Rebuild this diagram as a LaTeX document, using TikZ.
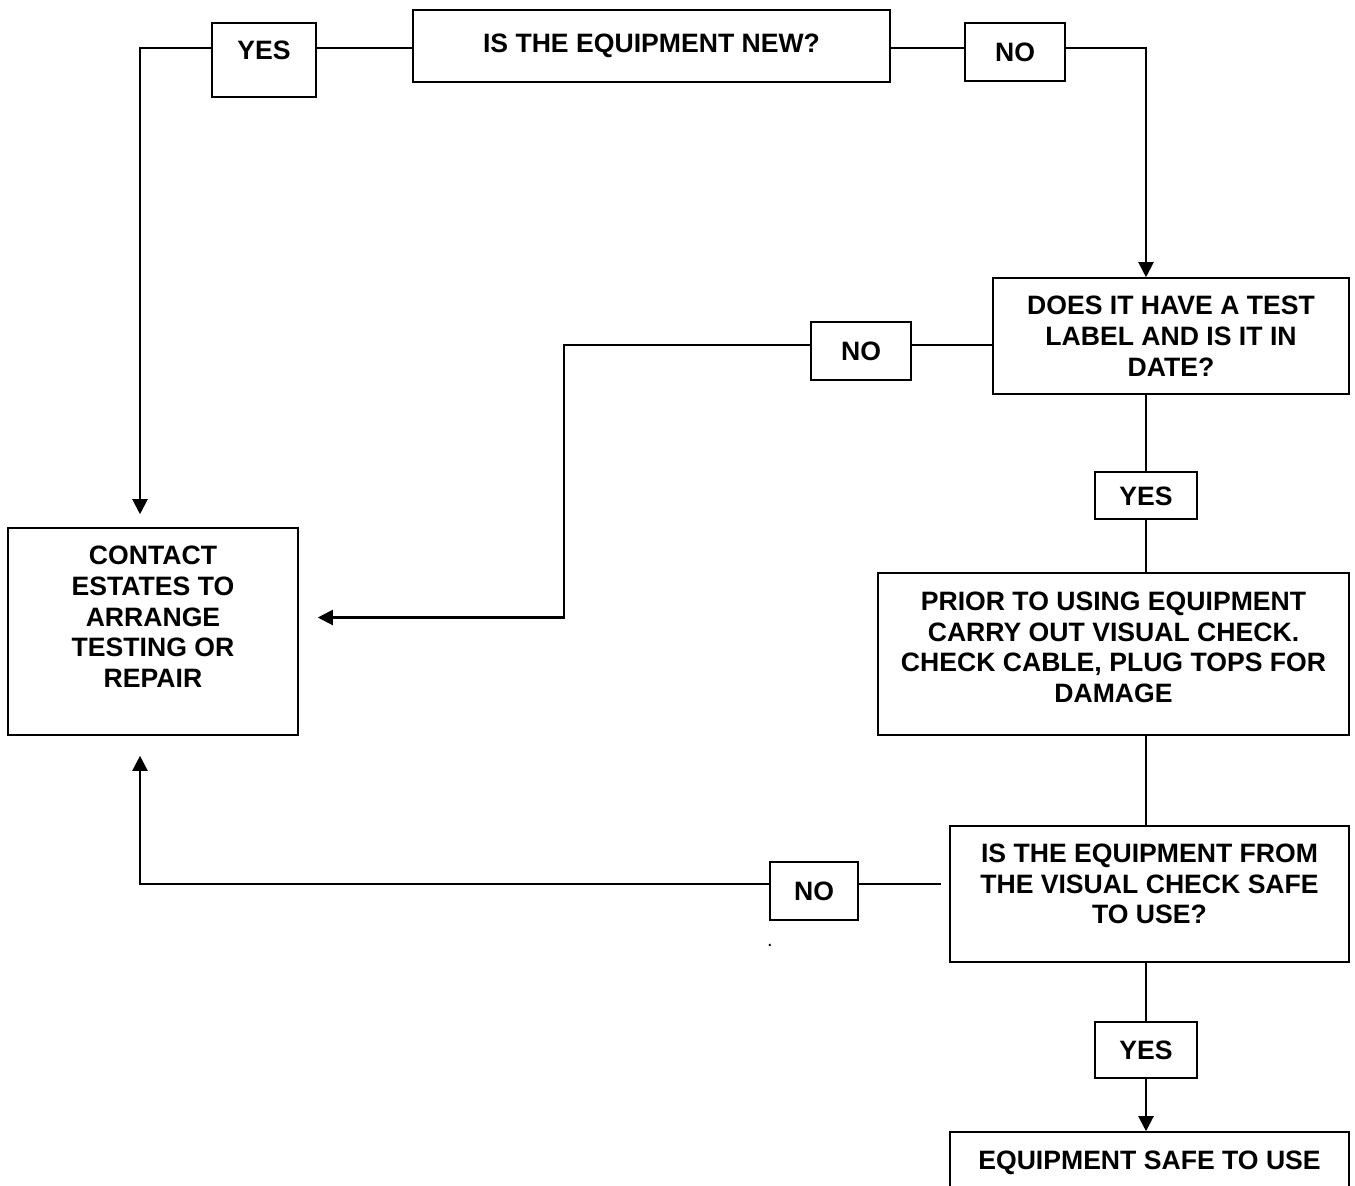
\documentclass[tikz,border=0pt]{standalone}
\usepackage{fontspec}
\setmainfont{Liberation Sans}
\usepackage{tikz}
\usetikzlibrary{arrows.meta}

\begin{document}
\begin{tikzpicture}[x=0.5pt, y=-0.5pt]
	% Styles
	\tikzstyle{box} = [draw, line width=0.8pt, rectangle, inner sep=0pt, align=center, text height=9.5pt, font=\fontsize{13.3pt}{15.4pt}\selectfont\bfseries]
	\tikzstyle{ans} = [box, minimum width=50pt, minimum height=29pt, text depth=0pt]
	\tikzstyle{line} = [line width=1.05pt]
	\tikzstyle{arrow} = [line width=1.05pt, ->, >={Triangle[length=7.5pt, width=7.5pt]}]

	\useasboundingbox (0,0) rectangle (1355,1185);

	% Nodes
	\node (new) [box, minimum width=238.5pt, minimum height=36pt, text depth=3pt] at (651.5,46) {IS THE EQUIPMENT NEW?};
	\node (yes1) [ans, minimum width=52pt, minimum height=37pt, text depth=10pt] at (264,60) {YES};
	\node (no1) [ans] at (1015,52) {NO};
	\node (label) [box, minimum width=178pt, minimum height=58pt, text height=40.3pt, text depth=0pt] at (1171,336) {DOES IT HAVE A TEST\\LABEL AND IS IT IN\\DATE?};
	\node (no2) [ans] at (861,351) {NO};
	\node (yes2) [ans, minimum width=51pt, minimum height=23.5pt] at (1146,495.5) {YES};
	\node (contact) [box, minimum width=145pt, minimum height=103.5pt, text height=71.1pt, text depth=15pt] at (153,631.5) {CONTACT\\ESTATES TO\\ARRANGE\\TESTING OR\\REPAIR};
	\node (prior) [box, minimum width=235.5pt, minimum height=81pt, text height=55.7pt, text depth=7pt] at (1113.5,654) {PRIOR TO USING EQUIPMENT\\CARRY OUT VISUAL CHECK.\\CHECK CABLE, PLUG TOPS FOR\\DAMAGE};
	\node (from) [box, minimum width=199.5pt, minimum height=68pt, text height=40.3pt, text depth=10.5pt] at (1149.5,894) {IS THE EQUIPMENT FROM\\THE VISUAL CHECK SAFE\\TO USE?};
	\node (no3) [ans, minimum width=44pt] at (814,891) {NO};
	\node (yes3) [ans, minimum width=51pt, minimum height=28pt] at (1146,1050) {YES};
	\node (safe) [box, minimum width=199.5pt, minimum height=34pt, text depth=6pt] at (1149.5,1166) {EQUIPMENT SAFE TO USE};
	\node (dot) at (770,945) {.};

	% Connections
	\draw [line] ([yshift=-1pt]new.west) -- ([yshift=-1pt]new.west -| yes1.east);
	\draw [arrow, shorten >=6.5pt] ([yshift=-1pt]new.west -| yes1.west) -| ([xshift=-6.5pt]contact.north);
	\draw [line] ([yshift=-1pt]new.east) -- ([yshift=-1pt]new.east -| no1.west);
	\draw [arrow] ([yshift=-1pt]new.east -| no1.east) -| (yes2 |- label.north);
	\draw [line] ([yshift=3pt]no2.east) -- ([yshift=3pt]no2.east -| label.west);
	\draw [arrow, shorten >=9.5pt] ([yshift=3pt]no2.west) -- ++(-246,0) |- ([yshift=7pt]contact.east);
	\draw [line] (yes2 |- label.south) -- (yes2.north);
	\draw [line] (yes2.south) -- (yes2 |- prior.north);
	\draw [line] (yes2 |- prior.south) -- (yes2 |- from.north);
	\draw [line] (yes3 |- from.south) -- (yes3.north);
	\draw [arrow] (yes3.south) -- (yes3 |- safe.north);
	\draw [line, shorten >=4pt] ([yshift=3.5pt]no3.east) -- ([yshift=3.5pt]no3.east -| from.west);
	\draw [arrow, shorten >=10pt] ([yshift=3.5pt]no3.west) -| ([xshift=-6.5pt]contact.south);
\end{tikzpicture}
\end{document}
